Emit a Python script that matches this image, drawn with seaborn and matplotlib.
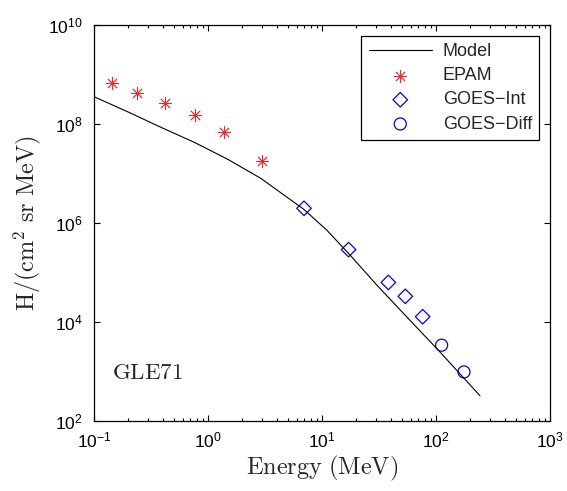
import numpy as np
import pandas as pd
import seaborn as sns
import matplotlib
matplotlib.use("Agg")
from matplotlib import pyplot as plt
from matplotlib import ticker

# model curve
model_e = [0.1, 0.196, 0.385, 0.754, 1.476, 2.90, 6.9, 11.0, 17.6, 30.2, 51.7, 108, 243]
model_h = [3.56e8, 1.78e8, 8.6e7, 4.29e7, 1.96e7, 8.0e6, 1.9e6, 7.2e5, 2.26e5, 5.6e4, 1.5e4, 2.5e3, 3.24e2]

epam_e = [0.144, 0.24, 0.42, 0.77, 1.39, 2.96]
epam_h = [6.8e8, 4.3e8, 2.7e8, 1.5e8, 7.0e7, 1.8e7]

goes_int_e = [6.95, 17.1, 38.2, 53.8, 76.4]
goes_int_h = [1.98e6, 2.9e5, 6.3e4, 3.3e4, 1.28e4]

goes_diff_e = [112, 176]
goes_diff_h = [3.4e3, 9.8e2]


def plot_spectrum(fig_location):
    sns.set_style("ticks")
    plt.rcParams['font.family'] = ['Liberation Sans', 'DejaVu Sans']
    plt.rcParams['mathtext.fontset'] = 'custom'
    plt.rcParams['mathtext.rm'] = 'Liberation Sans'
    plt.rcParams['mathtext.it'] = 'Liberation Sans:italic'
    plt.rcParams['mathtext.bf'] = 'Liberation Sans:bold'

    fig = plt.figure(figsize=(5.67, 4.91), dpi=100)
    ax = fig.add_axes([94 / 567, 70 / 491, 456 / 567, 396 / 491])

    model = pd.DataFrame({'e': model_e, 'h': model_h})
    sns.lineplot(ax=ax, data=model, x='e', y='h', color='black',
                 linewidth=0.8, label='Model')
    sns.scatterplot(ax=ax, x=epam_e, y=epam_h, marker=(8, 2, 0), s=80,
                    color='#ff2020', linewidth=0.6, label='EPAM')
    sns.scatterplot(ax=ax, x=goes_int_e, y=goes_int_h, marker='D', s=55,
                    facecolor='none', edgecolor='blue', linewidth=0.9,
                    label='GOES\u2212Int')
    sns.scatterplot(ax=ax, x=goes_diff_e, y=goes_diff_h, marker='o', s=75,
                    facecolor='none', edgecolor='blue', linewidth=0.9,
                    label='GOES\u2212Diff')

    ax.set_xscale('log')
    ax.set_yscale('log')
    ax.set_xlim(0.1, 1000)
    ax.set_ylim(1e2, 1e10)
    ax.yaxis.set_major_locator(ticker.FixedLocator([1e2, 1e4, 1e6, 1e8, 1e10]))
    ax.yaxis.set_minor_locator(ticker.NullLocator())
    ax.xaxis.set_major_locator(ticker.LogLocator(base=10, numticks=10))
    ax.xaxis.set_minor_locator(ticker.LogLocator(base=10, subs=np.arange(2, 10), numticks=10))

    ax.tick_params(which='both', direction='in', top=True, right=True,
                   labelsize=12.5, width=0.8, colors='black')
    ax.tick_params(which='major', length=4.5)
    ax.tick_params(which='minor', length=2.5)
    ax.tick_params(axis='x', which='major', pad=7)
    ax.tick_params(axis='y', which='major', pad=8)
    for s in ax.spines.values():
        s.set_linewidth(0.9)
        s.set_color('black')

    ax.set_xlabel(r'$\mathrm{Energy\ (MeV)}$', fontsize=17.5, math_fontfamily='cm',
                  labelpad=2)
    ax.set_ylabel(r'$\mathrm{H/(cm^2\ sr\ MeV)}$', fontsize=17.5, math_fontfamily='cm',
                  labelpad=4)
    ax.text(0.039, 0.106, r'$\mathrm{GLE71}$', transform=ax.transAxes,
            fontsize=16.5, math_fontfamily='cm')

    leg = ax.legend(loc='upper right', fontsize=13, frameon=True, fancybox=False,
                    edgecolor='black', framealpha=1, handlelength=3.5,
                    handletextpad=0.6, borderpad=0.4, labelspacing=0.4,
                    borderaxespad=0.6)
    leg.get_frame().set_linewidth(0.9)

    plt.savefig(fig_location, dpi=100)


if __name__ == "__main__":
    plot_spectrum('out.png')
